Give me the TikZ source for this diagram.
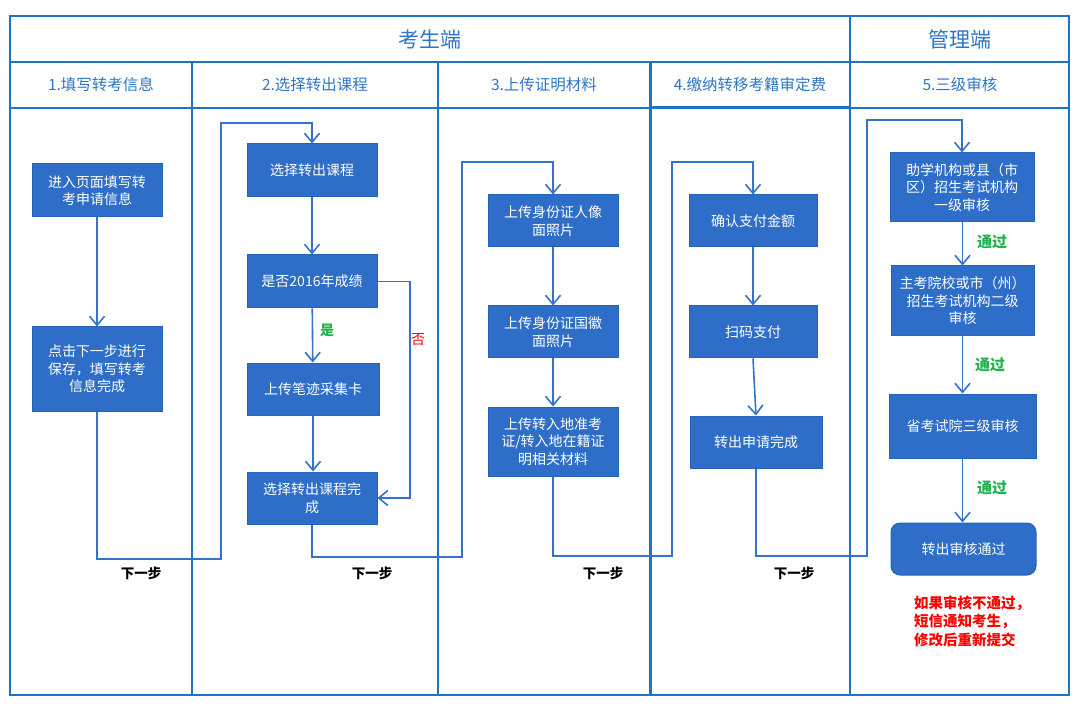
\documentclass[tikz,border=0pt]{standalone}
\usepackage{fontspec}
\setmainfont{Noto Sans CJK SC}
\usetikzlibrary{arrows.meta}
\definecolor{framec}{RGB}{30,115,197}
\definecolor{boxfill}{RGB}{46,110,200}
\definecolor{boxline}{RGB}{38,98,186}
\definecolor{connc}{RGB}{52,114,206}
\definecolor{hdr}{RGB}{46,117,195}
\definecolor{okgreen}{RGB}{34,177,76}
\definecolor{nored}{RGB}{255,0,0}
\tikzset{
 stepbox/.style={draw=boxline, fill=boxfill, line width=1pt, text=white,
   font=\fontsize{14}{17.5}\selectfont, align=center, inner sep=0pt},
 frameline/.style={draw=framec, line width=2pt},
 conn/.style={draw=connc, line width=1.6pt},
 arr/.style={conn, -{Straight Barb[length=9pt,width=15pt,line width=1.6pt]}},
 hdrtext/.style={text=hdr, font=\fontsize{15.5}{18}\selectfont},
 nexttext/.style={text=black, font=\bfseries\fontsize{13.5}{16}\selectfont},
 passtext/.style={text=okgreen, font=\bfseries\fontsize{15}{17}\selectfont},
}
\begin{document}
\begin{tikzpicture}[x=1pt,y=-1pt]
\useasboundingbox (0,0) rectangle (1080,714);
% frame
\draw[frameline] (10,16) rectangle (1069,695);
\draw[frameline] (10,62) -- (1069,62);
\draw[frameline] (10,108) -- (1069,108);
\draw[frameline] (850,16) -- (850,695);
\draw[frameline] (192,62) -- (192,695);
\draw[frameline] (438,62) -- (438,695);
\draw[frameline, line width=3pt] (650,62) -- (650,695);
\draw[frameline, line width=3pt] (650,108) -- (850,108);
% headers
\node[hdrtext, font=\fontsize{21}{24}\selectfont] (h0) at (430,40) {考生端};
\node[hdrtext, font=\fontsize{21}{24}\selectfont] (h00) at (960,40) {管理端};
\node[hdrtext] (h1) at (101,85) {1.填写转考信息};
\node[hdrtext] (h2) at (315,85) {2.选择转出课程};
\node[hdrtext] (h3) at (544,85) {3.上传证明材料};
\node[hdrtext] (h4) at (750,85) {4.缴纳转移考籍审定费};
\node[hdrtext] (h5) at (960,85) {5.三级审核};
% column 1
\node[stepbox, minimum width=130, minimum height=53] (A1) at (97,190.5) {进入页面填写转\\考申请信息};
\node[stepbox, minimum width=130, minimum height=84] (A2) at (97,369) {点击下一步进行\\保存，填写转考\\信息完成};
% column 2
\node[stepbox, minimum width=130, minimum height=53] (B1) at (312,170.5) {选择转出课程};
\node[stepbox, minimum width=130, minimum height=53] (B2) at (312,281.5) {是否2016年成绩};
\node[stepbox, minimum width=132, minimum height=52] (B3) at (313,389) {上传笔迹采集卡};
\node[stepbox, minimum width=130, minimum height=52] (B4) at (312,498) {选择转出课程完\\成};
% column 3
\node[stepbox, minimum width=130, minimum height=52] (C1) at (553,221) {上传身份证人像\\面照片};
\node[stepbox, minimum width=130, minimum height=52] (C2) at (553,332) {上传身份证国徽\\面照片};
\node[stepbox, minimum width=130, minimum height=69] (C3) at (553,441.5) {上传转入地准考\\证/转入地在籍证\\明相关材料};
% column 4
\node[stepbox, minimum width=128, minimum height=52] (D1) at (753,221) {确认支付金额};
\node[stepbox, minimum width=128, minimum height=52] (D2) at (753,332) {扫码支付};
\node[stepbox, minimum width=132, minimum height=52] (D3) at (756,442) {转出申请完成};
% column 5
\node[stepbox, minimum width=144, minimum height=69] (E1) at (962,187.5) {助学机构或县（市\\区）招生考试机构\\一级审核};
\node[stepbox, minimum width=143, minimum height=70] (E2) at (962.5,301) {主考院校或市（州）\\招生考试机构二级\\审核};
\node[stepbox, minimum width=147, minimum height=64] (E3) at (962.5,426) {省考试院三级审核};
\node[stepbox, rounded corners=9pt, minimum width=145, minimum height=52] (E4) at (963.5,549) {转出审核通过};
% connectors inside columns
\draw[arr] (A1) -- (A2);
\draw[arr] (B1) -- (B2);
\draw[arr] (B2) -- (B3);
\draw[arr] (B3.south) -- (B4.north -| B3.south);
\coordinate (nb) at (410,281.5);
\draw[arr] (B2.east) -- (nb) |- (B4.east);
\draw[arr] (C1) -- (C2);
\draw[arr] (C2) -- (C3);
\draw[arr] (D1) -- (D2);
\draw[arr] (D2.south) -- (D3.north);
\draw[arr] (E1.south -| E2.north) -- (E2.north);
\draw[arr] (E2) -- (E3.north -| E2.south);
\draw[arr] (E3.south -| E2.south) -- (E4.north -| E2.south);
% step-to-step connectors
\coordinate (p1a) at (221,559);
\coordinate (p1b) at (221,123);
\draw[arr] (A2.south) |- (p1a) -- (p1b) -| (B1.north);
\coordinate (p2a) at (462,557);
\coordinate (p2b) at (462,162);
\draw[arr] (B4.south) |- (p2a) -- (p2b) -| (C1.north);
\coordinate (p3a) at (672,556);
\coordinate (p3b) at (672,162);
\draw[arr] (C3.south) |- (p3a) -- (p3b) -| (D1.north);
\coordinate (p4a) at (867,556);
\coordinate (p4b) at (867,120);
\draw[arr] (D3.south) |- (p4a) -- (p4b) -| (E1.north);
% labels
\node[text=okgreen, font=\bfseries\fontsize{14}{16}\selectfont] (yes) at (327,330) {是};
\node[text=nored, font=\fontsize{14}{16}\selectfont] (no) at (418,340) {否};
\node[nexttext] (n1) at (141,573) {下一步};
\node[nexttext] (n2) at (372,573) {下一步};
\node[nexttext] (n3) at (603,573) {下一步};
\node[nexttext] (n4) at (794,573) {下一步};
\node[passtext] (t1) at (992,242) {通过};
\node[passtext] (t2) at (990,365) {通过};
\node[passtext] (t3) at (992,488) {通过};
\node[text=nored, font=\bfseries\fontsize{14.5}{18.5}\selectfont, align=left, anchor=west, inner sep=0pt] (fail) at (914,621) {如果审核不通过，\\短信通知考生，\\修改后重新提交};
\end{tikzpicture}
\end{document}
